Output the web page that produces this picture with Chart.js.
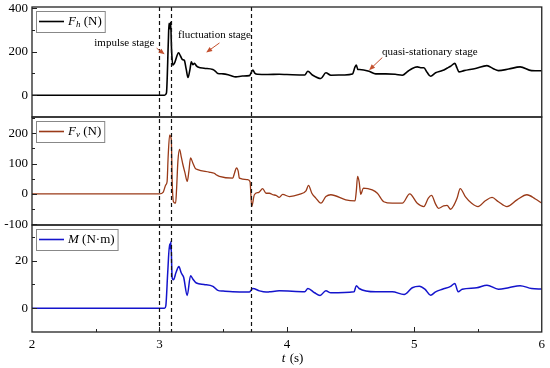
<!DOCTYPE html>
<html>
<head>
<meta charset="utf-8">
<script src="https://cdn.jsdelivr.net/npm/chart.js@4.4.1/dist/chart.umd.min.js"></script>
<style>
  html, body { margin: 0; padding: 0; background: #fff; }
  #wrap { position: relative; width: 550px; height: 368px; }
</style>
</head>
<body>
<div id="wrap"><canvas id="forceChart" width="550" height="368"></canvas></div>
<script>
// horizontal force F_h (N)
const hTime = [2.0, 3.04, 3.055, 3.07, 3.075, 3.082, 3.088, 3.095, 3.105, 3.12, 3.15, 3.165, 3.18, 3.195, 3.21, 3.224, 3.24, 3.25, 3.262, 3.275, 3.29, 3.307, 3.35, 3.419, 3.44, 3.458, 3.5, 3.55, 3.6, 3.65, 3.706, 3.733, 3.75, 3.77, 3.85, 3.94, 4.0, 4.14, 4.165, 4.2, 4.267, 4.306, 4.345, 4.45, 4.514, 4.535, 4.545, 4.557, 4.57, 4.645, 4.697, 4.776, 4.85, 4.906, 4.95, 4.984, 5.023, 5.05, 5.075, 5.1, 5.128, 5.167, 5.22, 5.26, 5.285, 5.318, 5.335, 5.35, 5.39, 5.48, 5.57, 5.62, 5.66, 5.74, 5.83, 5.92, 6.0];
const hForce = [0, 0, 10, 250, 330, 305, 335, 210, 138, 150, 195, 180, 164, 160, 120, 81, 120, 153, 140, 146, 135, 128, 124, 118, 110, 100, 98, 92, 84, 88, 90, 115, 100, 96, 95, 96, 95, 93, 110, 93, 77, 103, 92, 93, 97, 130, 138, 118, 118, 110, 98, 98, 96, 92, 110, 123, 130, 126, 126, 105, 87, 103, 113, 125, 133, 146, 125, 107, 113, 123, 136, 122, 113, 120, 130, 113, 112];

// vertical force F_v (N)
const vTime = [2.0, 3.0, 3.03, 3.05, 3.06, 3.068, 3.08, 3.093, 3.1, 3.11, 3.127, 3.135, 3.145, 3.158, 3.17, 3.184, 3.2, 3.218, 3.231, 3.244, 3.262, 3.28, 3.3, 3.39, 3.43, 3.445, 3.47, 3.575, 3.59, 3.605, 3.618, 3.627, 3.693, 3.711, 3.724, 3.745, 3.78, 3.81, 3.837, 3.863, 3.89, 3.915, 3.94, 3.967, 4.02, 4.097, 4.15, 4.17, 4.196, 4.227, 4.267, 4.306, 4.345, 4.462, 4.535, 4.545, 4.555, 4.567, 4.58, 4.6, 4.67, 4.71, 4.76, 4.827, 4.906, 4.964, 5.023, 5.075, 5.11, 5.135, 5.167, 5.19, 5.23, 5.257, 5.285, 5.31, 5.336, 5.36, 5.4, 5.45, 5.5, 5.557, 5.61, 5.66, 5.727, 5.806, 5.884, 5.95, 6.0];
const vForce = [0, 0, 6, 30, 40, 119, 194, 180, 41, -26, -31, 20, 108, 147, 125, 97, 70, 41, 74, 119, 102, 85, 80, 72, 68, 63, 58, 52, 70, 86, 75, 52, 47, 40, -42, -3, 5, 17, 2, 2, -3, -5, -12, -2, -9, -2, 10, 28, 2, -14, -31, -9, -3, -20, -23, 10, 58, 40, -2, 19, 13, 2, -26, -31, -31, 0, -31, -42, -14, -5, -34, -48, -40, -38, -51, -38, -14, 17, -9, -31, -42, -23, -12, -26, -42, -20, -3, -17, -31];

// moment M (N·m)
const mTime = [2.0, 3.04, 3.05, 3.065, 3.08, 3.085, 3.09, 3.1, 3.11, 3.13, 3.153, 3.17, 3.18, 3.19, 3.218, 3.244, 3.262, 3.29, 3.35, 3.42, 3.458, 3.5, 3.575, 3.706, 3.733, 3.785, 3.837, 3.863, 3.94, 4.14, 4.165, 4.217, 4.26, 4.306, 4.345, 4.527, 4.545, 4.567, 4.697, 4.827, 4.92, 4.984, 5.04, 5.083, 5.128, 5.167, 5.22, 5.285, 5.318, 5.344, 5.376, 5.49, 5.57, 5.66, 5.74, 5.83, 5.92, 6.0];
const mValue = [0, 0, 1, 15, 27, 25, 28, 12.7, 12, 15, 17.5, 15, 14, 13, 5.4, 13.7, 12.3, 10.6, 10, 9.2, 7.5, 7.2, 6.9, 6.8, 8.3, 7.3, 6.8, 6.9, 7.3, 6.9, 8.3, 6.5, 5.4, 7.3, 6.5, 6.9, 9.5, 8.3, 6.9, 6.9, 5.8, 8.6, 9.2, 8.0, 5.5, 6.9, 8, 9.2, 10.4, 6.9, 8, 8.6, 9.7, 8.0, 8.6, 9.5, 8.3, 8.1];

// stage boundaries (s)
const stageTimes = [3.0, 3.09, 3.72];

// tick labels
const xTicks = [2, 3, 4, 5, 6];
const hTicks = [0, 200, 400];
const vTicks = [-100, 0, 100, 200];
const mTicks = [0, 20];

const serif = '"Liberation Serif", "Times New Roman", serif';

function pts(ts, vs) {
    return ts.map((t, i) => ({ x: t, y: vs[i] }));
}

// annotations in data coordinates of the top panel
const notes = [
    { text: 'impulse stage', x: 2.725, y: 238, from: [2.978, 216], to: [3.041, 188] },
    { text: 'fluctuation stage', x: 3.432, y: 276, from: [3.471, 240], to: [3.367, 196] },
    { text: 'quasi-stationary stage', x: 5.122, y: 199, from: [4.749, 173], to: [4.645, 115] }
];

const legends = [
    { axis: 'yH', color: '#000000', parts: [['F', 'i'], ['h', 'sub'], [' (N)', 'n']] },
    { axis: 'yV', color: '#9a3a18', parts: [['F', 'i'], ['v', 'sub'], [' (N)', 'n']] },
    { axis: 'yM', color: '#1414cc', parts: [['M', 'i'], [' (N\u00b7m)', 'n']] }
];

function arrow(ctx, x1, y1, x2, y2) {
    const ang = Math.atan2(y2 - y1, x2 - x1);
    ctx.beginPath();
    ctx.moveTo(x1, y1);
    ctx.lineTo(x2 - 4 * Math.cos(ang), y2 - 4 * Math.sin(ang));
    ctx.stroke();
    ctx.beginPath();
    ctx.moveTo(x2, y2);
    ctx.lineTo(x2 - 6 * Math.cos(ang) + 2.5 * Math.sin(ang), y2 - 6 * Math.sin(ang) - 2.5 * Math.cos(ang));
    ctx.lineTo(x2 - 6 * Math.cos(ang) - 2.5 * Math.sin(ang), y2 - 6 * Math.sin(ang) + 2.5 * Math.cos(ang));
    ctx.closePath();
    ctx.fill();
}

const decor = {
    id: 'decor',
    afterDraw(chart) {
        const ctx = chart.ctx;
        const a = chart.chartArea;
        const x = chart.scales.x;
        ctx.save();

        // dashed stage lines
        ctx.strokeStyle = '#111';
        ctx.lineWidth = 1.2;
        ctx.setLineDash([4, 3]);
        stageTimes.forEach(t => {
            const px = Math.round(x.getPixelForValue(t)) + 0.5;
            ctx.beginPath();
            ctx.moveTo(px, a.top);
            ctx.lineTo(px, a.bottom);
            ctx.stroke();
        });
        ctx.setLineDash([]);

        // panel frames and y ticks
        ['yH', 'yV', 'yM'].forEach(id => {
            const s = chart.scales[id];
            ctx.strokeStyle = '#222';
            ctx.lineWidth = 1.3;
            ctx.strokeRect(a.left, s.top, a.right - a.left, s.bottom - s.top);
            const vals = s.ticks.map(t => t.value);
            const step = vals[1] - vals[0];
            const all = [];
            vals.forEach(v => { all.push([v, 5]); all.push([v + step / 2, 3]); all.push([v - step / 2, 3]); });
            ctx.lineWidth = 1;
            all.forEach(([v, len]) => {
                if (v <= s.min || v >= s.max) return;
                const py = Math.round(s.getPixelForValue(v)) + 0.5;
                ctx.beginPath();
                ctx.moveTo(a.left, py);
                ctx.lineTo(a.left + len, py);
                ctx.stroke();
            });
        });

        // x ticks on bottom
        ctx.lineWidth = 1;
        xTicks.forEach(t => {
            [[t, 5], [t + 0.5, 3]].forEach(([v, len]) => {
                if (v <= x.min || v >= x.max) return;
                const px = Math.round(x.getPixelForValue(v)) + 0.5;
                ctx.beginPath();
                ctx.moveTo(px, a.bottom);
                ctx.lineTo(px, a.bottom - len);
                ctx.stroke();
            });
        });

        // x title
        ctx.fillStyle = '#000';
        ctx.textBaseline = 'middle';
        ctx.textAlign = 'left';
        const tx = x.getPixelForValue(3.96);
        ctx.font = 'italic 13px ' + serif;
        ctx.fillText('t', tx, 359);
        ctx.font = '13px ' + serif;
        ctx.fillText(' (s)', tx + ctx.measureText('t').width + 1, 359);

        // legends
        legends.forEach(lg => {
            const s = chart.scales[lg.axis];
            const top = s.top + 4;
            const left = a.left + 4;
            let w = 0;
            lg.parts.forEach(([txt, st]) => {
                ctx.font = (st === 'n' ? '' : 'italic ') + (st === 'sub' ? '9px ' : '13px ') + serif;
                w += ctx.measureText(txt).width;
            });
            const boxW = 32 + w + 3;
            ctx.fillStyle = '#fff';
            ctx.fillRect(left, top, boxW, 21);
            ctx.strokeStyle = '#888';
            ctx.lineWidth = 1;
            ctx.strokeRect(left + 0.5, top + 0.5, boxW, 21);
            const cy = top + 10.5;
            ctx.strokeStyle = lg.color;
            ctx.lineWidth = 1.6;
            ctx.beginPath();
            ctx.moveTo(left + 3, cy);
            ctx.lineTo(left + 28, cy);
            ctx.stroke();
            let cx = left + 32;
            ctx.fillStyle = '#000';
            lg.parts.forEach(([txt, st]) => {
                ctx.font = (st === 'n' ? '' : 'italic ') + (st === 'sub' ? '9px ' : '13px ') + serif;
                ctx.fillText(txt, cx, st === 'sub' ? cy + 3 : cy);
                cx += ctx.measureText(txt).width;
            });
        });

        // stage annotations
        const yH = chart.scales.yH;
        ctx.font = '11px ' + serif;
        ctx.textAlign = 'center';
        notes.forEach(n => {
            ctx.fillStyle = '#000';
            ctx.fillText(n.text, x.getPixelForValue(n.x), yH.getPixelForValue(n.y));
            ctx.strokeStyle = '#c4502e';
            ctx.fillStyle = '#c4502e';
            ctx.lineWidth = 1;
            arrow(ctx, x.getPixelForValue(n.from[0]), yH.getPixelForValue(n.from[1]),
                x.getPixelForValue(n.to[0]), yH.getPixelForValue(n.to[1]));
        });

        ctx.restore();
    }
};

const yBase = {
    type: 'linear',
    position: 'left',
    stack: 'panels',
    grid: { display: false, drawTicks: false },
    border: { display: false },
    ticks: { font: { family: serif, size: 13 }, color: '#000', padding: 4 },
    afterFit: s => { s.width = 32; s.paddingTop = 0; s.paddingBottom = 0; }
};

new Chart(document.getElementById('forceChart'), {
    type: 'line',
    data: {
        datasets: [
            { label: 'F_h', data: pts(hTime, hForce), yAxisID: 'yH', borderColor: '#000000', borderWidth: 1.6 },
            { label: 'F_v', data: pts(vTime, vForce), yAxisID: 'yV', borderColor: '#9a3a18', borderWidth: 1.3 },
            { label: 'M', data: pts(mTime, mValue), yAxisID: 'yM', borderColor: '#1414cc', borderWidth: 1.5 }
        ]
    },
    options: {
        responsive: false,
        animation: false,
        devicePixelRatio: 1,
        layout: { padding: { top: 7, right: 7, left: 0, bottom: 0 } },
        elements: {
            point: { radius: 0 },
            line: { cubicInterpolationMode: 'monotone' }
        },
        plugins: { legend: { display: false }, tooltip: { enabled: false } },
        scales: {
            x: {
                type: 'linear',
                min: 2,
                max: 6,
                grid: { display: false, drawTicks: false },
                border: { display: false },
                ticks: { font: { family: serif, size: 13 }, color: '#000', padding: 5, stepSize: 1 },
                afterBuildTicks: s => { s.ticks = xTicks.map(v => ({ value: v })); },
                afterFit: s => { s.height = 36; }
            },
            yM: Object.assign({}, yBase, {
                min: -10, max: 35, stackWeight: 107,
                afterBuildTicks: s => { s.ticks = mTicks.map(v => ({ value: v })); }
            }),
            yV: Object.assign({}, yBase, {
                min: -103, max: 254, stackWeight: 108,
                afterBuildTicks: s => { s.ticks = vTicks.map(v => ({ value: v })); }
            }),
            yH: Object.assign({}, yBase, {
                min: -100, max: 405, stackWeight: 110,
                afterBuildTicks: s => { s.ticks = hTicks.map(v => ({ value: v })); }
            })
        }
    },
    plugins: [decor]
});
</script>
</body>
</html>
